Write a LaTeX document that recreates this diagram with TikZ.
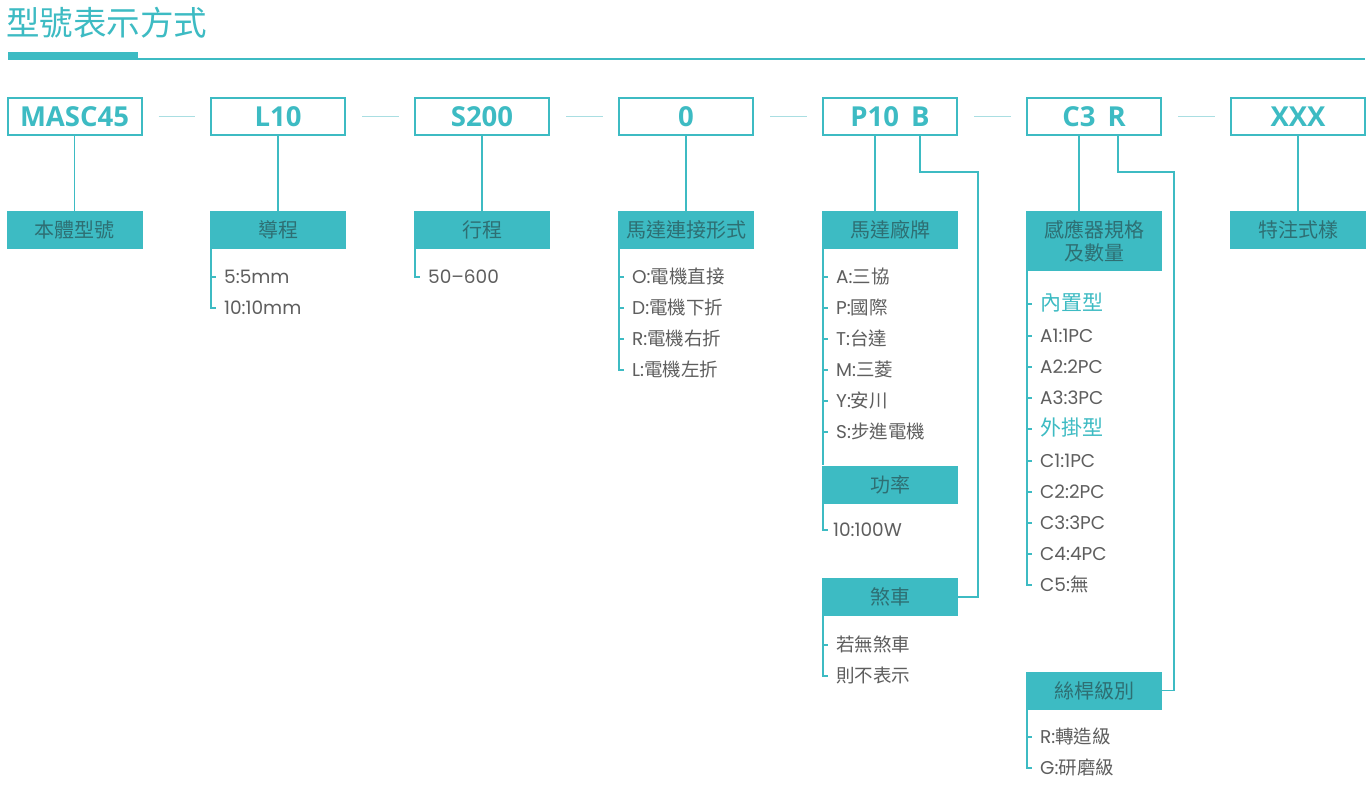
\documentclass[tikz,border=0pt]{standalone}
\usepackage{fontspec}
\setmainfont{Noto Sans CJK TC}
\newfontfamily\latf{Poppins}
\newfontfamily\boldf{Open Sans}
\definecolor{teal1}{HTML}{3DBBC3}
\definecolor{tealL}{HTML}{A9DEE2}
\definecolor{tealD}{HTML}{2E6F73}
\definecolor{greyT}{HTML}{5E5E5E}
\newcommand\lt[1]{{\latf #1}}
\tikzset{
  topbox/.style={draw=teal1, line width=2pt, fill=white, minimum width=134pt, minimum height=37pt, inner sep=0pt, text=teal1, font=\boldf\bfseries\fontsize{27.5}{29}\selectfont},
  subbox/.style={fill=teal1, minimum width=136pt, minimum height=38pt, inner sep=0pt, text=tealD, font=\fontsize{20}{23}\selectfont},
  item/.style={anchor=west, inner sep=0pt, text=greyT, font=\fontsize{18.5}{20}\selectfont, text height=16pt, text depth=2.4pt},
  headitem/.style={item, text=teal1, font=\fontsize{21}{23}\selectfont},
  conn/.style={draw=teal1, line width=1.8pt},
  gapline/.style={draw=tealL, line width=1.5pt}
}
\begin{document}
\begin{tikzpicture}[x=1pt,y=-1pt]
\useasboundingbox[fill=white] (0,0) rectangle (1370,792);
% title
\node[anchor=west, text=teal1, font=\fontsize{33.5}{35}\selectfont, inner sep=0pt] (title) at (6,22.5) {型號表示方式};
\fill[teal1] (8,52) rectangle (138,60);
\draw[teal1, line width=2pt] (138,59) -- (1365,59);
% top boxes
\node[topbox] (t1) at (74.5,116.5) {MASC45};
\node[topbox] (t2) at (278,116.5) {L10};
\node[topbox] (t3) at (482,116.5) {S200};
\node[topbox] (t4) at (686,116.5) {0};
\node[topbox] (t5) at (890,116.5) {P10\hspace{12pt}B};
\node[topbox] (t6) at (1094,116.5) {C3\hspace{12pt}R};
\node[topbox] (t7) at (1298,116.5) {XXX};
\foreach \a/\b in {t1/t2,t2/t3,t3/t4,t4/t5,t5/t6,t6/t7}
  \draw[gapline] ([xshift=16pt]\a.east) -- ([xshift=-15pt]\b.west);
% sub boxes
\node[subbox] (s1) at (74.5,230) {本體型號};
\node[subbox] (s2) at (278,230) {導程};
\node[subbox] (s3) at (482,230) {行程};
\node[subbox] (s4) at (686,230) {馬達連接形式};
\node[subbox] (s5) at (890,230) {馬達廠牌};
\node[subbox, minimum height=60pt, align=center, font=\fontsize{20}{23}\selectfont] (s6) at (1094,241) {感應器規格\\及數量};
\node[subbox] (s7) at (1298,230) {特注式樣};
\node[subbox] (p5) at (890,484.5) {功率};
\node[subbox] (k5) at (890,597) {煞車};
\node[subbox] (w6) at (1094,690.5) {絲桿級別};
% connectors
\draw[conn] (t1.south) -- (s1.north);
\draw[conn] (t2.south) -- (s2.north);
\draw[conn] (t3.south) -- (s3.north);
\draw[conn] (t4.south) -- (s4.north);
\draw[conn] ([xshift=-15pt]t5.south) -- ([xshift=-15pt]s5.north);
\draw[conn] ([xshift=30pt]t5.south) -- ++(0,36) -| ([xshift=20pt]k5.east) -- (k5.east);
\draw[conn] ([xshift=-15pt]t6.south) -- ([xshift=-15pt]s6.north);
\draw[conn] ([xshift=24pt]t6.south) -- ++(0,36) -| ([xshift=12pt]w6.east) -- (w6.east);
\draw[conn] (t7.south) -- (s7.north);
% items col 2
\node[item] (b1) at (224,277) {\lt{5:5mm}};
\node[item] (b2) at (224,308) {\lt{10:10mm}};
% col 3
\node[item] (c1) at (428,277) {\lt{50–600}};
% col 4
\node[item] (d1) at (632,277) {\lt{O:}電機直接};
\node[item] (d2) at (632,308) {\lt{D:}電機下折};
\node[item] (d3) at (632,339) {\lt{R:}電機右折};
\node[item] (d4) at (632,370) {\lt{L:}電機左折};
% col 5
\node[item] (e1) at (836,277) {\lt{A:}三協};
\node[item] (e2) at (836,308) {\lt{P:}國際};
\node[item] (e3) at (836,339) {\lt{T:}台達};
\node[item] (e4) at (836,370) {\lt{M:}三菱};
\node[item] (e5) at (836,401) {\lt{Y:}安川};
\node[item] (e6) at (836,432) {\lt{S:}步進電機};
\node[item] (f1) at (833,530) {\lt{10:100W}};
\node[item] (g1) at (836,645) {若無煞車};
\node[item] (g2) at (836,676) {則不表示};
% col 6
\node[headitem] (h1) at (1040,304) {內置型};
\node[item] (h2) at (1040,336) {\lt{A1:1PC}};
\node[item] (h3) at (1040,367) {\lt{A2:2PC}};
\node[item] (h4) at (1040,398) {\lt{A3:3PC}};
\node[headitem] (h5) at (1040,429) {外掛型};
\node[item] (h6) at (1040,461) {\lt{C1:1PC}};
\node[item] (h7) at (1040,492) {\lt{C2:2PC}};
\node[item] (h8) at (1040,523) {\lt{C3:3PC}};
\node[item] (h9) at (1040,554) {\lt{C4:4PC}};
\node[item] (h10) at (1040,585) {\lt{C5:}無};
\node[item] (r1) at (1040,737) {\lt{R:}轉造級};
\node[item] (r2) at (1040,768) {\lt{G:}研磨級};
% list lines
\draw[conn] ([xshift=1pt]s2.south west) |- ([xshift=-8pt]b2.west);
\draw[conn] ([xshift=1pt]s3.south west) |- ([xshift=-8pt]c1.west);
\draw[conn] ([xshift=1pt]s4.south west) |- ([xshift=-8pt]d4.west);
\draw[conn] ([xshift=1pt]s5.south west) -- ([xshift=1pt]p5.north west);
\draw[conn] ([xshift=1pt]p5.south west) |- ([xshift=-5pt]f1.west);
\draw[conn] ([xshift=1pt]k5.south west) |- ([xshift=-8pt]g2.west);
\draw[conn] ([xshift=1pt]s6.south west) |- ([xshift=-8pt]h10.west);
\draw[conn] ([xshift=1pt]w6.south west) |- ([xshift=-8pt]r2.west);
\foreach \n in {b1,d1,d2,d3,e1,e2,e3,e4,e5,e6,g1,h1,h2,h3,h4,h5,h6,h7,h8,h9,r1}
  \draw[conn] ([xshift=-13pt]\n.west) -- ([xshift=-8pt]\n.west);
\end{tikzpicture}
\end{document}
